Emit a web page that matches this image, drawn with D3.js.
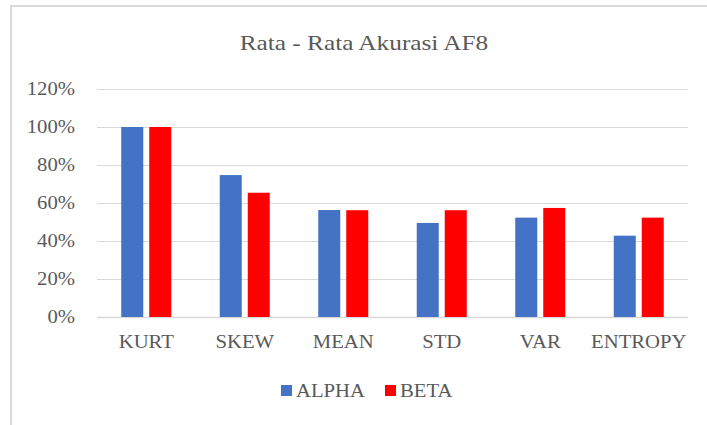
<!DOCTYPE html>
<html>
<head>
<meta charset="utf-8">
<script src="https://cdn.jsdelivr.net/npm/d3@7"></script>
<style>
  body { margin: 0; background: #fff; }
  text { font-family: "Liberation Serif", "Times New Roman", serif; fill: #595959; }
</style>
</head>
<body>
<div id="chart"></div>
<script>
// data
const categories = ['KURT', 'SKEW', 'MEAN', 'STD', 'VAR', 'ENTROPY'];
const seriesNames = ['ALPHA', 'BETA'];
const alpha = [100, 74.7, 56.3, 49.5, 52.3, 42.8];
const beta = [100, 65.4, 56.2, 56.2, 57.4, 52.3];
const yTicks = [0, 20, 40, 60, 80, 100, 120];

const W = 707, H = 425;
const colors = { ALPHA: '#4472C4', BETA: '#FF0000' };
const stretch = 1.15; // reference text is a bit wide

const svg = d3.select('#chart').append('svg')
  .attr('width', W)
  .attr('height', H);

// chart frame
svg.append('path')
  .attr('d', 'M11,' + H + ' V6 H' + W)
  .attr('fill', 'none')
  .attr('stroke', '#d9d9d9')
  .attr('stroke-width', 2);

const plot = { left: 97, right: 688, top: 89, bottom: 317 };

const x = d3.scaleBand()
  .domain(categories)
  .range([plot.left, plot.right]);

const y = d3.scaleLinear()
  .domain([0, 120])
  .range([plot.bottom, plot.top]);

function label(g, txt, px, py, size, anchor) {
  return g.append('text')
    .attr('transform', 'translate(' + px + ',' + py + ') scale(' + stretch + ',1)')
    .attr('text-anchor', anchor)
    .style('font-size', size + 'px')
    .text(txt);
}

// gridlines
svg.append('g')
  .selectAll('line')
  .data(yTicks)
  .join('line')
  .attr('x1', plot.left)
  .attr('x2', plot.right)
  .attr('y1', d => Math.round(y(d)) + 0.5)
  .attr('y2', d => Math.round(y(d)) + 0.5)
  .attr('stroke', '#d9d9d9')
  .attr('stroke-width', d => d === 0 ? 1.5 : 1.2);

// y labels
const yl = svg.append('g');
yTicks.forEach(t => label(yl, t + '%', 75, y(t) + 6, 18, 'end'));

// bars
const barW = 22, gap = 6;
const rows = categories.map((c, i) => ({ cat: c, ALPHA: alpha[i], BETA: beta[i] }));
seriesNames.forEach((s, k) => {
  svg.append('g')
    .selectAll('rect')
    .data(rows)
    .join('rect')
    .attr('x', d => x(d.cat) + x.bandwidth() / 2 + (k === 0 ? -(barW + gap / 2) : gap / 2))
    .attr('y', d => y(d[s]))
    .attr('width', barW)
    .attr('height', d => y(0) - y(d[s]))
    .attr('fill', colors[s]);
});

// category labels
const xl = svg.append('g');
categories.forEach(c => label(xl, c, x(c) + x.bandwidth() / 2, 348, 18, 'middle'));

// title
label(svg, 'Rata - Rata Akurasi AF8', 364, 50, 22, 'middle');

// legend
const legendX = [281, 385];
const lg = svg.append('g');
seriesNames.forEach((s, k) => {
  lg.append('rect')
    .attr('x', legendX[k])
    .attr('y', 385)
    .attr('width', 11)
    .attr('height', 11)
    .attr('fill', colors[s]);
  label(lg, s, legendX[k] + 15, 397, 18, 'start');
});
</script>
</body>
</html>
